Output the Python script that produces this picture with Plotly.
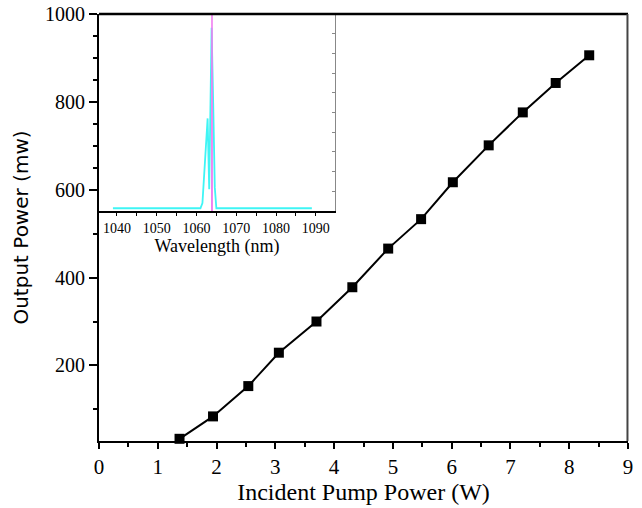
import plotly.graph_objects as go

# Main curve: output power vs incident pump power
pump_power_w = [1.37, 1.94, 2.54, 3.06, 3.70, 4.31, 4.92, 5.48, 6.02, 6.63, 7.21, 7.77, 8.34]
output_power_mw = [33, 84, 153, 229, 300, 378, 466, 533, 617, 701, 776, 843, 906]

# Inset spectrum (normalized intensity)
spec_wavelength_nm = [1039, 1055, 1061.0, 1061.5, 1062.0, 1062.8, 1063.2, 1063.5, 1063.8,
                      1064.2, 1064.6, 1065.0, 1070, 1089]
spec_intensity = [0.014, 0.014, 0.014, 0.04, 0.2, 0.47, 0.11, 0.5, 0.93, 0.55, 0.12, 0.014,
                  0.014, 0.014]
laser_line_nm = [1063.85, 1063.9, 1063.95]
laser_line_int = [0.0, 1.2, 0.0]

x_ticks = list(range(0, 10))
y_ticks = [200, 400, 600, 800, 1000]
y_minor = [100, 300, 500, 650, 700, 750, 850, 900, 950]
inset_x_ticks = [1040, 1050, 1060, 1070, 1080, 1090]

serif = "Liberation Serif, Times New Roman, serif"

fig = go.Figure()
fig.add_trace(go.Scatter(
    x=pump_power_w, y=output_power_mw, mode="lines+markers",
    line=dict(color="black", width=2),
    marker=dict(symbol="square", size=10, color="black"),
    showlegend=False, cliponaxis=False))

fig.add_trace(go.Scatter(
    x=spec_wavelength_nm, y=spec_intensity, mode="lines",
    line=dict(color="#3ff5f5", width=1.8), xaxis="x2", yaxis="y2", showlegend=False))
fig.add_trace(go.Scatter(
    x=laser_line_nm, y=laser_line_int, mode="lines",
    line=dict(color="#f07cf0", width=1.5), xaxis="x2", yaxis="y2", showlegend=False))

fig.update_layout(
    width=642, height=508,
    margin=dict(l=99, r=14, t=14, b=67),
    paper_bgcolor="white", plot_bgcolor="white",
    shapes=[
        dict(type="line", xref="paper", yref="paper", x0=0, x1=1, y0=1, y1=1,
             line=dict(color="black", width=2.5)),
        dict(type="line", xref="paper", yref="paper", x0=0.999, x1=0.999, y0=0, y1=1,
             line=dict(color="#444444", width=2)),
    ],
    xaxis=dict(
        range=[0, 9], tickvals=x_ticks, ticks="outside", ticklen=6, tickwidth=1.5,
        tickcolor="black", showline=True, linecolor="black", linewidth=2,
        showgrid=False, zeroline=False, automargin=False,
        minor=dict(dtick=0.5, ticks="outside", ticklen=4, tickwidth=1.5, tickcolor="black"),
        tickfont=dict(family=serif, size=21, color="black"),
        title=dict(text="Incident Pump Power (W)", standoff=5,
                   font=dict(family=serif, size=24, color="black")),
    ),
    yaxis=dict(
        range=[28, 1000], tickvals=y_ticks, ticks="outside", ticklen=8, tickwidth=1.5,
        tickcolor="black", showline=True, linecolor="black", linewidth=2,
        showgrid=False, zeroline=False, automargin=False, ticklabeloverflow="allow",
        minor=dict(tickvals=y_minor, ticks="outside", ticklen=4, tickwidth=1.5,
                   tickcolor="black"),
        tickfont=dict(family=serif, size=20, color="black"),
        title=dict(text="Output Power (mw)", standoff=11,
                   font=dict(family="DejaVu Sans, sans-serif", size=20, color="black")),
    ),
    xaxis2=dict(
        domain=[0, 0.446], anchor="y2", range=[1035.5, 1094.8], automargin=False,
        tickvals=inset_x_ticks, ticks="outside", ticklen=3, tickwidth=1, tickcolor="black",
        minor=dict(dtick=5, tick0=1040, ticks="outside", ticklen=3, tickwidth=1,
                   tickcolor="black"),
        showline=True, linecolor="black", linewidth=1.5, showgrid=False, zeroline=False,
        tickfont=dict(family=serif, size=14, color="black"),
        title=dict(text="Wavelength (nm)", standoff=0,
                   font=dict(family=serif, size=18, color="black")),
    ),
    yaxis2=dict(
        domain=[0.5386, 1], anchor="x2", range=[0, 1], side="right", automargin=False,
        showline=True, linecolor="#888888", linewidth=1, ticks="inside", ticklen=3,
        dtick=0.1, tickcolor="#888888", showticklabels=False, showgrid=False,
        zeroline=False,
    ),
)

fig.write_html("out.html", config={"displayModeBar": False},
               post_script="document.body.style.margin = '0px';")
